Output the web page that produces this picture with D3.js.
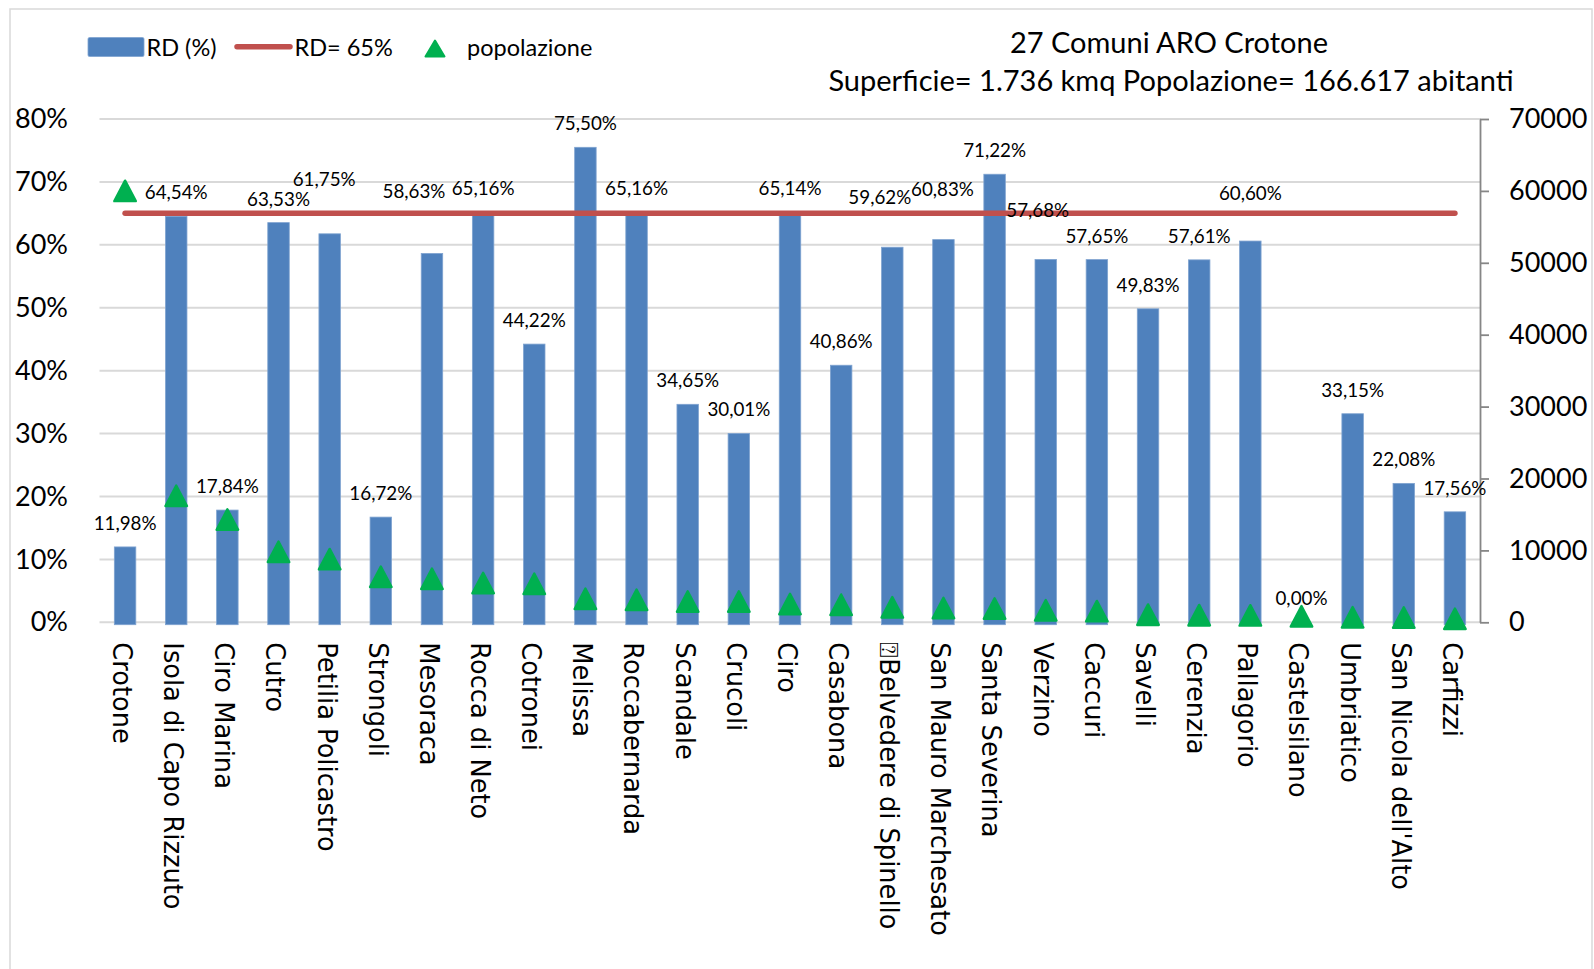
<!DOCTYPE html>
<html>
<head>
<meta charset="utf-8">
<script src="https://cdn.jsdelivr.net/npm/d3@7"></script>
<style>
  html, body { margin: 0; padding: 0; background: #ffffff; }
  svg { display: block; }
</style>
</head>
<body>
<svg id="chart" width="1594" height="969"></svg>
<script>
// ---------------- data ----------------
const categories = [
  "Crotone", "Isola di Capo Rizzuto", "Ciro Marina", "Cutro", "Petilia Policastro",
  "Strongoli", "Mesoraca", "Rocca di Neto", "Cotronei", "Melissa", "Roccabernarda",
  "Scandale", "Crucoli", "Ciro", "Casabona", "\u2370Belvedere di Spinello",
  "San Mauro Marchesato", "Santa Severina", "Verzino", "Caccuri", "Savelli",
  "Cerenzia", "Pallagorio", "Castelsilano", "Umbriatico", "San Nicola dell'Alto", "Carfizzi"
];
const rdValues = [
  11.98, 64.54, 17.84, 63.53, 61.75, 16.72, 58.63, 65.16, 44.22, 75.50, 65.16,
  34.65, 30.01, 65.14, 40.86, 59.62, 60.83, 71.22, 57.68, 57.65, 49.83,
  57.61, 60.60, 0.00, 33.15, 22.08, 17.56
];
const popValues = [
  60000, 17600, 14300, 9800, 8780, 6340, 6050, 5470, 5370, 3280, 3130,
  2890, 2890, 2550, 2450, 2080, 1990, 1920, 1670, 1550, 1060,
  990, 960, 830, 710, 670, 490
];
const rdTarget = 65;
const leftTicks = [0, 10, 20, 30, 40, 50, 60, 70, 80];
const rightTicks = [0, 10000, 20000, 30000, 40000, 50000, 60000, 70000];
const seriesNames = ["RD (%)", "RD= 65%", "popolazione"];
const titleLines = ["27 Comuni ARO Crotone", "Superficie= 1.736 kmq Popolazione= 166.617 abitanti"];

// manual label nudges (layout only), keyed by category index: [dx, dy] in px
const labelNudge = { 4: [-5.5, -31], 6: [-18, -38], 15: [-12.5, -26.6], 16: [-1, -27], 18: [-8, -25.6], 22: [0, -24.4] };

// ---------------- layout ----------------
const BLUE = "#4F81BD", RED = "#C0504D", GREEN = "#00B050", GRID = "#D9D9D9";
const plot = { left: 99.5, right: 1480.5, top: 119, bottom: 622.3 };
const svg = d3.select("#chart");

// chart border
svg.append("rect").attr("x", 10).attr("y", 9).attr("width", 1582).attr("height", 990)
  .attr("fill", "none").attr("stroke", GRID).attr("stroke-width", 1.5);

const x = d3.scaleBand().domain(categories).range([plot.left, plot.right])
  .paddingInner(0.58).paddingOuter(0.29);
const yL = d3.scaleLinear().domain([0, 80]).range([plot.bottom, plot.top]);
const yR = d3.scaleLinear().domain([0, 70000]).range([plot.bottom, plot.top]);
const cx = d => x(d) + x.bandwidth() / 2;

// gridlines
svg.append("g").selectAll("line").data(leftTicks).join("line")
  .attr("x1", plot.left).attr("x2", plot.right)
  .attr("y1", d => yL(d)).attr("y2", d => yL(d))
  .attr("stroke", GRID).attr("stroke-width", 2);

// left axis
const gL = svg.append("g").attr("transform", "translate(68,0)")
  .call(d3.axisLeft(yL).tickValues(leftTicks).tickSize(0).tickPadding(0).tickFormat(d => d + "%"));
gL.select(".domain").remove();
gL.selectAll("text").attr("font-family", "Lato, sans-serif").attr("font-size", 27).attr("fill", "#000");

// right axis
const gR = svg.append("g").attr("transform", `translate(${plot.right - 0.5},0)`)
  .call(d3.axisRight(yR).tickValues(rightTicks).tickSize(9).tickSizeOuter(0).tickPadding(20).tickFormat(d3.format("d")));
gR.select(".domain").attr("stroke", "#868686").attr("stroke-width", 1.8);
gR.selectAll(".tick line").attr("stroke", "#868686").attr("stroke-width", 1.8);
gR.selectAll("text").attr("font-family", "Lato, sans-serif").attr("font-size", 27).attr("fill", "#000");

// bars
const data = categories.map((c, i) => ({ c, i, rd: rdValues[i], pop: popValues[i] }));
svg.append("g").selectAll("rect").data(data).join("rect")
  .attr("x", d => x(d.c)).attr("width", x.bandwidth())
  .attr("y", d => yL(d.rd))
  .attr("height", d => d.rd > 0 ? yL(0) - yL(d.rd) + 2.4 : 0)
  .attr("fill", BLUE).attr("stroke", "#7FA3D0").attr("stroke-width", 0.8);

// target line
svg.append("line")
  .attr("x1", cx(categories[0])).attr("x2", cx(categories[categories.length - 1]))
  .attr("y1", yL(rdTarget)).attr("y2", yL(rdTarget))
  .attr("stroke", RED).attr("stroke-width", 5.5).attr("stroke-linecap", "round");

// triangles
function tri(w, h) {
  return `M0,${-h / 2}L${w / 2},${h / 2}L${-w / 2},${h / 2}Z`;
}
svg.append("g").selectAll("path").data(data).join("path")
  .attr("d", tri(21.5, 20.5))
  .attr("transform", d => `translate(${cx(d.c)},${yR(d.pop)})`)
  .attr("fill", GREEN).attr("stroke", GREEN).attr("stroke-width", 2.4).attr("stroke-linejoin", "round");

// data labels
const fmt = v => v.toFixed(2).replace(".", ",") + "%";
svg.append("g").selectAll("text").data(data).join("text")
  .attr("x", d => cx(d.c) + (labelNudge[d.i] ? labelNudge[d.i][0] : 0))
  .attr("y", d => yL(d.rd) - 17 + (labelNudge[d.i] ? labelNudge[d.i][1] : 0))
  .attr("text-anchor", "middle")
  .attr("font-family", "Lato, sans-serif").attr("font-size", 18.8).attr("fill", "#000")
  .text(d => fmt(d.rd));

// category axis
const gX = svg.append("g").attr("transform", `translate(0,${plot.bottom})`)
  .call(d3.axisBottom(x).tickSize(0).tickPadding(0));
gX.select(".domain").remove();
gX.selectAll("text")
  .attr("transform", "rotate(90)")
  .attr("x", 20).attr("y", 0).attr("dy", "0.47em")
  .attr("text-anchor", "start")
  .attr("font-family", "'DejaVu Sans', sans-serif").attr("font-size", 25.7).attr("fill", "#000");

// legend
const lg = svg.append("g").attr("font-family", "Lato, sans-serif").attr("font-size", 23.5).attr("fill", "#000");
lg.append("rect").attr("x", 88).attr("y", 37.5).attr("width", 56).attr("height", 19).attr("rx", 1.5)
  .attr("fill", BLUE).attr("stroke", "#7FA3D0").attr("stroke-width", 0.8);
lg.append("text").attr("x", 146.5).attr("y", 56).text(seriesNames[0]);
lg.append("line").attr("x1", 237).attr("x2", 290).attr("y1", 46.8).attr("y2", 46.8)
  .attr("stroke", RED).attr("stroke-width", 5.5).attr("stroke-linecap", "round");
lg.append("text").attr("x", 294.5).attr("y", 56).text(seriesNames[1]);
lg.append("path").attr("d", tri(19, 16)).attr("transform", "translate(435,48.5)")
  .attr("fill", GREEN).attr("stroke", GREEN).attr("stroke-width", 2).attr("stroke-linejoin", "round");
lg.append("text").attr("x", 467).attr("y", 56).text(seriesNames[2]);

// title
const tg = svg.append("g").attr("font-family", "Lato, sans-serif").attr("font-size", 29).attr("fill", "#000")
  .attr("text-anchor", "middle");
tg.append("text").attr("x", 1169).attr("y", 53.3).text(titleLines[0]);
tg.append("text").attr("x", 1171).attr("y", 90.7).text(titleLines[1]);
</script>
</body>
</html>
